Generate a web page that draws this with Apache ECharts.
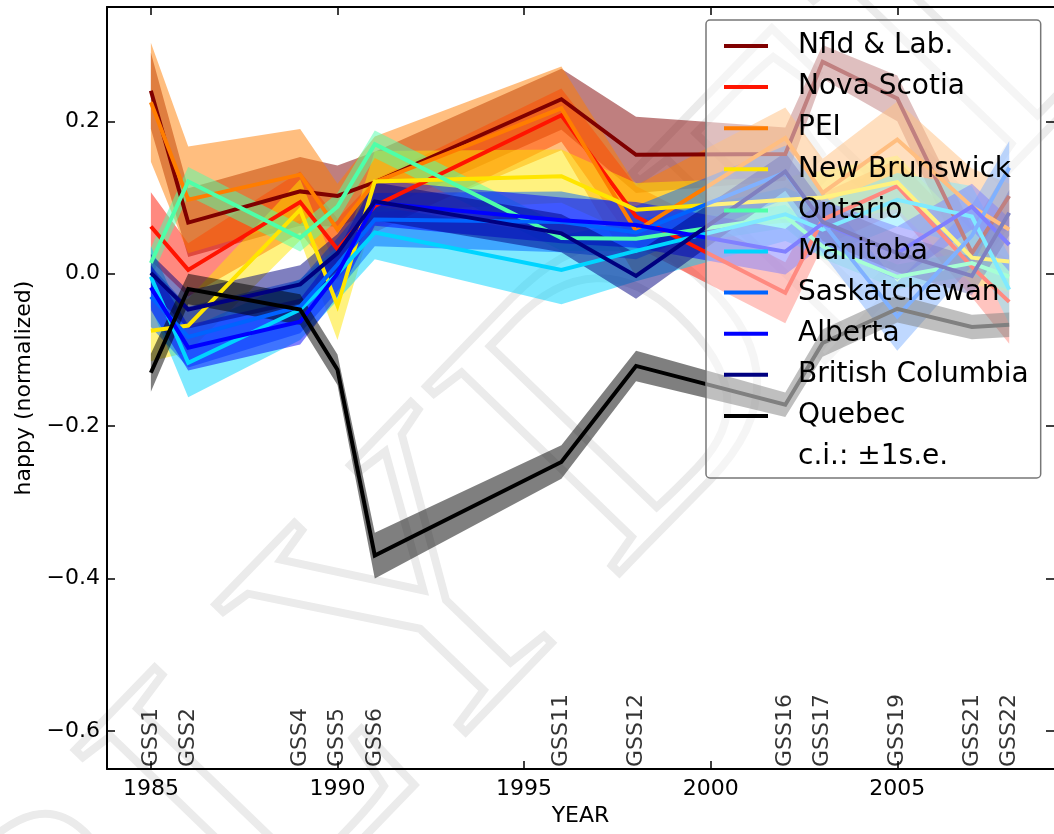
<!DOCTYPE html>
<html>
<head>
<meta charset="utf-8">
<script src="https://cdn.jsdelivr.net/npm/echarts@6/dist/echarts.min.js"></script>
<style>
  html, body { margin: 0; padding: 0; background: #fff; }
  #chart { width: 1054px; height: 834px; }
</style>
</head>
<body>
<div id="chart"></div>
<script>
// survey years and GSS cycle names
const years = [1985, 1986, 1989, 1990, 1991, 1996, 1998, 2002, 2003, 2005, 2007, 2008];
const gssNames = ['GSS1', 'GSS2', 'GSS4', 'GSS5', 'GSS6', 'GSS11', 'GSS12', 'GSS16', 'GSS17', 'GSS19', 'GSS21', 'GSS22'];
const xTicks = [1985, 1990, 1995, 2000, 2005];
const yTicks = [-0.6, -0.4, -0.2, 0.0, 0.2];

// mean happiness (normalized) per province
const nfld   = [0.240, 0.067, 0.108, 0.102, 0.120, 0.229, 0.156, 0.157, 0.278, 0.230, 0.027, 0.102];
const nova   = [0.062, 0.005, 0.094, 0.032, 0.089, 0.208, 0.075, -0.025, 0.071, 0.115, 0.009, -0.037];
const pei    = [0.225, 0.097, 0.130, 0.058, 0.120, 0.217, 0.056, 0.178, 0.106, 0.176, 0.088, 0.058];
const newBr  = [-0.075, -0.068, 0.084, -0.042, 0.121, 0.128, 0.084, 0.097, 0.100, 0.120, 0.021, 0.016];
const ont    = [0.014, 0.121, 0.047, 0.088, 0.170, 0.047, 0.046, 0.075, 0.036, -0.004, 0.014, -0.004];
const man    = [-0.004, -0.117, -0.047, 0.000, 0.054, 0.005, 0.030, 0.078, 0.058, 0.097, 0.075, -0.021];
const sask   = [-0.030, -0.083, -0.043, 0.012, 0.071, 0.068, 0.054, 0.133, 0.067, -0.056, 0.050, 0.139];
const alb    = [-0.018, -0.097, -0.063, 0.000, 0.093, 0.070, 0.064, 0.029, 0.066, 0.027, 0.088, 0.038];
const bc     = [0.001, -0.047, -0.014, 0.027, 0.095, 0.053, -0.003, 0.134, 0.068, 0.027, -0.003, 0.080];
const quebec = [-0.130, -0.020, -0.047, -0.126, -0.370, -0.247, -0.121, -0.172, -0.091, -0.046, -0.070, -0.067];

// standard errors (band = mean +/- 1 s.e.)
const nfldSe   = [0.050, 0.045, 0.045, 0.040, 0.040, 0.040, 0.050, 0.035, 0.022, 0.030, 0.035, 0.040];
const novaSe   = [0.045, 0.035, 0.040, 0.040, 0.035, 0.035, 0.040, 0.040, 0.035, 0.035, 0.040, 0.055];
const peiSe    = [0.078, 0.070, 0.060, 0.060, 0.060, 0.055, 0.060, 0.040, 0.045, 0.050, 0.050, 0.060];
const newBrSe  = [0.040, 0.035, 0.040, 0.045, 0.040, 0.035, 0.035, 0.030, 0.035, 0.035, 0.035, 0.040];
const ontSe    = [0.020, 0.019, 0.018, 0.018, 0.018, 0.017, 0.017, 0.015, 0.016, 0.016, 0.016, 0.018];
const manSe    = [0.040, 0.045, 0.040, 0.035, 0.035, 0.045, 0.040, 0.035, 0.035, 0.035, 0.040, 0.045];
const saskSe   = [0.040, 0.040, 0.035, 0.035, 0.035, 0.040, 0.035, 0.035, 0.040, 0.045, 0.040, 0.035];
const albSe    = [0.030, 0.030, 0.030, 0.030, 0.030, 0.030, 0.030, 0.030, 0.030, 0.035, 0.030, 0.035];
const bcSe     = [0.025, 0.025, 0.025, 0.025, 0.025, 0.025, 0.030, 0.025, 0.025, 0.025, 0.025, 0.030];
const quebecSe = [0.025, 0.020, 0.020, 0.020, 0.030, 0.022, 0.020, 0.016, 0.018, 0.018, 0.016, 0.016];

const names  = ['Nfld & Lab.', 'Nova Scotia', 'PEI', 'New Brunswick', 'Ontario', 'Manitoba', 'Saskatchewan', 'Alberta', 'British Columbia', 'Quebec'];
const colors = ['#800000', '#ff1400', '#ff7d00', '#ffe500', '#4effa9', '#00d4ff', '#0063ff', '#0000ff', '#000080', '#000000'];
const means  = [nfld, nova, pei, newBr, ont, man, sask, alb, bc, quebec];
const ses    = [nfldSe, novaSe, peiSe, newBrSe, ontSe, manSe, saskSe, albSe, bcSe, quebecSe];
const ciLabel = 'c.i.: \u00b11s.e.';

const FONT = 'DejaVu Sans';
const minus = v => String(v).replace('-', '\u2212');

const series = [];
names.forEach((name, k) => {
  const m = means[k], s = ses[k];
  // shaded band, drawn as one polygon through the axis scales
  series.push({
    name: name + ' band',
    type: 'custom',
    silent: true,
    data: years.map((y, i) => [y, m[i] - s[i], m[i] + s[i]]),
    renderItem: (params, api) => {
      if (params.dataIndex !== 0) return null;
      const pts = [];
      years.forEach((y, i) => pts.push(api.coord([y, m[i] + s[i]])));
      for (let i = years.length - 1; i >= 0; i--) pts.push(api.coord([years[i], m[i] - s[i]]));
      return { type: 'polygon', shape: { points: pts }, style: { fill: colors[k], opacity: 0.5 } };
    }
  });
  series.push({
    name: name,
    type: 'line',
    data: years.map((y, i) => [y, m[i]]),
    showSymbol: false,
    symbol: 'none',
    color: colors[k],
    lineStyle: { color: colors[k], width: 4, join: 'miter' }
  });
});

// legend-only entry for the confidence band note
series.push({ name: ciLabel, type: 'line', data: [], color: 'rgba(0,0,0,0)', symbol: 'none' });

// survey cycle labels along the bottom
series.push({
  type: 'scatter',
  silent: true,
  symbolSize: 0,
  data: years.map((y, i) => ({ value: [y, -0.6475], name: gssNames[i] })),
  label: {
    show: true,
    position: 'inside',
    rotate: 90,
    align: 'left',
    verticalAlign: 'middle',
    formatter: p => p.name,
    fontFamily: FONT,
    fontSize: 22,
    color: '#000'
  }
});

const tickStyle = { show: true, inside: true, length: 8, lineStyle: { color: '#000', width: 1.5 } };
const lineStyle = { show: true, onZero: false, lineStyle: { color: '#000', width: 2 } };

const option = {
  animation: false,
  backgroundColor: '#fff',
  graphic: [{
    type: 'text',
    x: 540, y: 500,
    rotation: 46 * Math.PI / 180,
    z: -10,
    silent: true,
    style: {
      text: 'BLYDEL',
      font: '410px "Liberation Serif"',
      fill: 'rgba(0,0,0,0)',
      stroke: '#ebebeb',
      lineWidth: 8,
      align: 'center',
      verticalAlign: 'middle'
    }
  }],
  grid: { left: 107, top: 7, width: 949, height: 762, containLabel: false },
  legend: {
    orient: 'vertical',
    left: 706,
    top: 20,
    padding: [11, 12, 6, 18],
    itemGap: 11.1,
    itemWidth: 44,
    itemHeight: 4,
    icon: 'rect',
    selectedMode: false,
    backgroundColor: 'rgba(255,255,255,0.5)',
    borderColor: '#777',
    borderWidth: 1.5,
    borderRadius: 4,
    data: names.concat([ciLabel]),
    textStyle: { fontFamily: FONT, fontSize: 28, color: '#000', lineHeight: 30, padding: [0, 0, 0, 25] }
  },
  xAxis: [{
    type: 'value',
    min: 1983.824,
    max: 2009.2,
    name: 'YEAR',
    nameLocation: 'middle',
    nameGap: 36,
    nameTextStyle: { fontFamily: FONT, fontSize: 22, color: '#000' },
    axisLine: lineStyle,
    axisTick: Object.assign({ customValues: xTicks }, tickStyle),
    axisLabel: { customValues: xTicks, formatter: v => String(v), fontFamily: FONT, fontSize: 22, color: '#000', margin: 9 },
    splitLine: { show: false }
  }, {
    type: 'value',
    position: 'top',
    min: 1983.824,
    max: 2009.2,
    axisLine: lineStyle,
    axisTick: Object.assign({ customValues: xTicks }, tickStyle),
    axisLabel: { show: false },
    splitLine: { show: false }
  }],
  yAxis: [{
    type: 'value',
    min: -0.65,
    max: 0.35,
    name: 'happy (normalized)',
    nameLocation: 'middle',
    nameGap: 70,
    nameTextStyle: { fontFamily: FONT, fontSize: 22, color: '#000' },
    axisLine: lineStyle,
    axisTick: Object.assign({ customValues: yTicks }, tickStyle),
    axisLabel: { customValues: yTicks, formatter: v => minus(v.toFixed(1)), fontFamily: FONT, fontSize: 22, color: '#000', margin: 7 },
    splitLine: { show: false }
  }, {
    type: 'value',
    position: 'right',
    min: -0.65,
    max: 0.35,
    axisLine: { show: false, onZero: false },
    axisTick: Object.assign({ customValues: yTicks }, tickStyle),
    axisLabel: { show: false },
    splitLine: { show: false }
  }],
  series: series
};

const chart = echarts.init(document.getElementById('chart'), null, { renderer: 'canvas' });
chart.setOption(option);
</script>
</body>
</html>
